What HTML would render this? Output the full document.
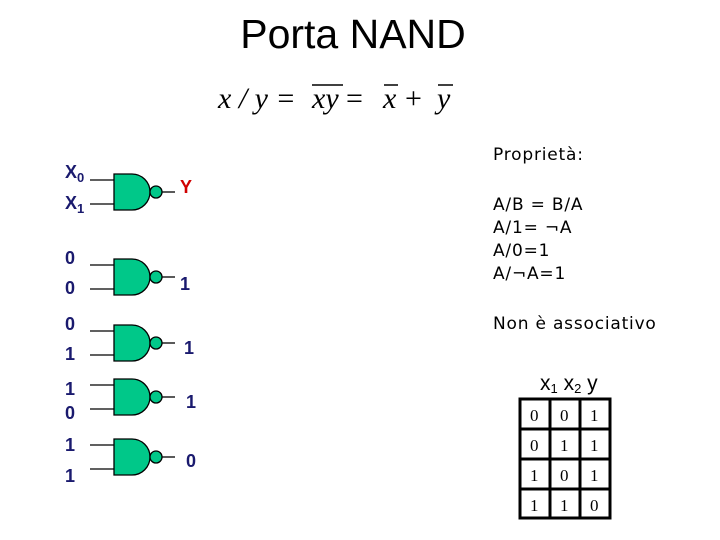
<!DOCTYPE html>
<html><head><meta charset="utf-8"><style>
html,body{margin:0;padding:0;background:#fff}
svg{display:block}
.l{font-family:"Liberation Sans",sans-serif;font-weight:bold;fill:#1a1a6e;font-size:18px}
.p{font-family:"DejaVu Sans","Liberation Sans",sans-serif;fill:#000;font-size:17px;letter-spacing:0.8px}
.t{font-family:"Liberation Serif",serif;font-size:17px;fill:#000}
</style></head><body>
<svg width="720" height="540" viewBox="0 0 720 540" xmlns="http://www.w3.org/2000/svg">
<text x="353" y="48" text-anchor="middle" font-family="Liberation Sans, sans-serif" font-size="41" fill="#000">Porta NAND</text>
<g font-family="Liberation Serif, serif" font-style="italic" font-size="30" fill="#000">
<text x="218" y="108">x / y = </text>
<text x="312" y="108">xy</text>
<text x="346" y="108" font-style="normal">=</text>
<text x="383" y="108">x</text>
<text x="405" y="108" font-style="normal">+</text>
<text x="437" y="108">y</text>
</g>
<g stroke="#000" stroke-width="1.5">
<line x1="312" y1="85" x2="343" y2="85"/>
<line x1="384" y1="85" x2="398" y2="85"/>
<line x1="438" y1="85" x2="453" y2="85"/>
</g>
<g id="gates" stroke="#000" stroke-width="1.3">
<g transform="translate(0,174)"><line x1="90" y1="6" x2="114" y2="6"/><line x1="90" y1="30" x2="114" y2="30"/><path d="M114 0H132A18 18 0 0 1 132 36H114Z" fill="#00c889"/><circle cx="156" cy="18" r="6" fill="#00c889"/><line x1="162" y1="18" x2="175" y2="18"/></g>
<g transform="translate(0,259)"><line x1="90" y1="6" x2="114" y2="6"/><line x1="90" y1="30" x2="114" y2="30"/><path d="M114 0H132A18 18 0 0 1 132 36H114Z" fill="#00c889"/><circle cx="156" cy="18" r="6" fill="#00c889"/><line x1="162" y1="18" x2="175" y2="18"/></g>
<g transform="translate(0,325)"><line x1="90" y1="6" x2="114" y2="6"/><line x1="90" y1="30" x2="114" y2="30"/><path d="M114 0H132A18 18 0 0 1 132 36H114Z" fill="#00c889"/><circle cx="156" cy="18" r="6" fill="#00c889"/><line x1="162" y1="18" x2="175" y2="18"/></g>
<g transform="translate(0,379)"><line x1="90" y1="6" x2="114" y2="6"/><line x1="90" y1="30" x2="114" y2="30"/><path d="M114 0H132A18 18 0 0 1 132 36H114Z" fill="#00c889"/><circle cx="156" cy="18" r="6" fill="#00c889"/><line x1="162" y1="18" x2="175" y2="18"/></g>
<g transform="translate(0,439)"><line x1="90" y1="6" x2="114" y2="6"/><line x1="90" y1="30" x2="114" y2="30"/><path d="M114 0H132A18 18 0 0 1 132 36H114Z" fill="#00c889"/><circle cx="156" cy="18" r="6" fill="#00c889"/><line x1="162" y1="18" x2="175" y2="18"/></g>
</g>
<text class="l" x="65" y="178">X<tspan font-size="13" dy="4">0</tspan></text>
<text class="l" x="65" y="209">X<tspan font-size="13" dy="4">1</tspan></text>
<text class="l" x="180" y="193" style="fill:#d00000">Y</text>
<text class="l" x="65" y="264">0</text><text class="l" x="65" y="294">0</text><text class="l" x="180" y="290">1</text>
<text class="l" x="65" y="330">0</text><text class="l" x="65" y="360">1</text><text class="l" x="184" y="354">1</text>
<text class="l" x="65" y="395">1</text><text class="l" x="65" y="419">0</text><text class="l" x="186" y="408">1</text>
<text class="l" x="65" y="451">1</text><text class="l" x="65" y="482">1</text><text class="l" x="186" y="467">0</text>
<text class="p" x="493" y="160">Proprietà:</text>
<text class="p" x="493" y="210">A/B = B/A</text>
<text class="p" x="493" y="233">A/1= ¬A</text>
<text class="p" x="493" y="256">A/0=1</text>
<text class="p" x="493" y="279">A/¬A=1</text>
<text class="p" x="493" y="329">Non è associativo</text>
<text font-family="Liberation Sans, sans-serif" font-size="21" x="540" y="390">x<tspan font-size="13" dy="3">1</tspan><tspan dy="-3"> x</tspan><tspan font-size="13" dy="3">2</tspan><tspan dy="-3"> y</tspan></text>
<g stroke="#000" stroke-width="3" fill="none">
<rect x="520" y="399" width="90" height="119"/>
<line x1="550" y1="399" x2="550" y2="518"/><line x1="580" y1="399" x2="580" y2="518"/>
<line x1="520" y1="429" x2="610" y2="429"/><line x1="520" y1="459" x2="610" y2="459"/><line x1="520" y1="489" x2="610" y2="489"/>
</g>
<g class="t">
<text class="t" x="530" y="421">0</text><text class="t" x="560" y="421">0</text><text class="t" x="590" y="421">1</text>
<text class="t" x="530" y="451">0</text><text class="t" x="560" y="451">1</text><text class="t" x="590" y="451">1</text>
<text class="t" x="530" y="481">1</text><text class="t" x="560" y="481">0</text><text class="t" x="590" y="481">1</text>
<text class="t" x="530" y="511">1</text><text class="t" x="560" y="511">1</text><text class="t" x="590" y="511">0</text>
</g>
</svg>
</body></html>
